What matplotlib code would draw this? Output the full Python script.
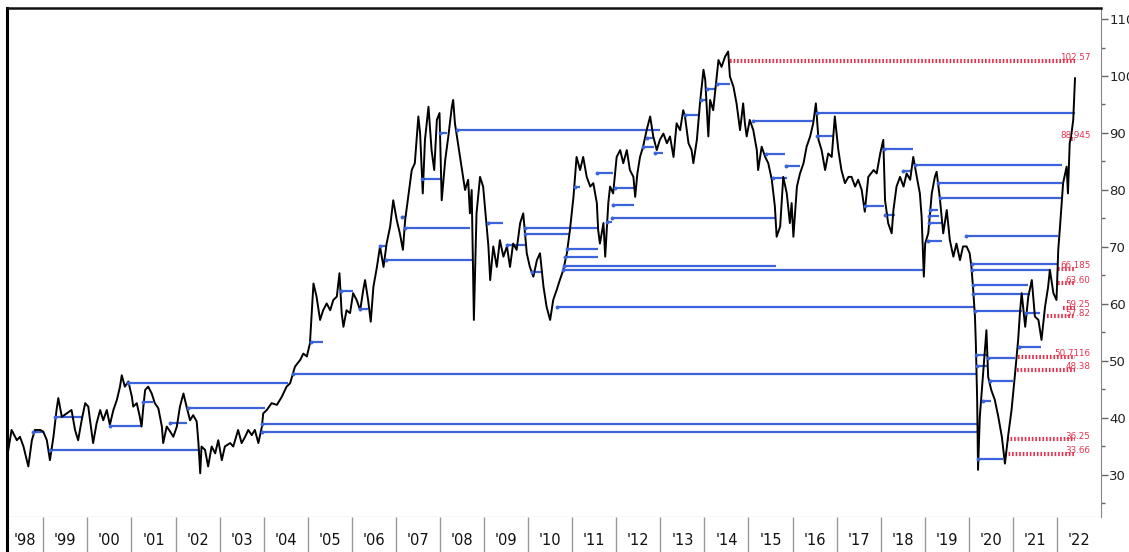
import matplotlib
matplotlib.use('Agg')
import matplotlib.pyplot as plt
from matplotlib.ticker import MultipleLocator

# price path (decimal year, price)
t = [1998.18, 1998.28, 1998.40, 1998.47, 1998.55, 1998.66, 1998.74, 1998.81, 1998.93,
     1999.00, 1999.08, 1999.15, 1999.23, 1999.30, 1999.34, 1999.42, 1999.53, 1999.64, 1999.72, 1999.79, 1999.87, 1999.95,
     2000.02, 2000.06, 2000.13, 2000.21, 2000.29, 2000.36, 2000.44, 2000.51, 2000.59, 2000.67, 2000.74, 2000.78, 2000.85, 2000.93,
     2001.01, 2001.04, 2001.12, 2001.19, 2001.23, 2001.27, 2001.31, 2001.38, 2001.46, 2001.53, 2001.61, 2001.69, 2001.72, 2001.80, 2001.88, 2001.95,
     2002.03, 2002.10, 2002.18, 2002.25, 2002.33, 2002.40, 2002.48, 2002.52, 2002.56, 2002.59, 2002.67, 2002.74, 2002.82, 2002.90, 2002.97,
     2003.05, 2003.12, 2003.24, 2003.31, 2003.42, 2003.50, 2003.58, 2003.65, 2003.73, 2003.80, 2003.88, 2003.96, 2003.99,
     2004.07, 2004.18, 2004.30, 2004.41, 2004.52, 2004.60, 2004.71, 2004.83, 2004.90, 2004.98,
     2005.05, 2005.09, 2005.13, 2005.20, 2005.28, 2005.35, 2005.43, 2005.51, 2005.58, 2005.66, 2005.72, 2005.77, 2005.81, 2005.88, 2005.96,
     2006.03, 2006.11, 2006.19, 2006.26, 2006.30, 2006.37, 2006.43, 2006.49, 2006.57, 2006.64, 2006.72, 2006.79, 2006.87, 2006.94,
     2007.02, 2007.09, 2007.16, 2007.21, 2007.28, 2007.36, 2007.43, 2007.51, 2007.55, 2007.61, 2007.66, 2007.74, 2007.81, 2007.87, 2007.93, 2007.99,
     2008.04, 2008.12, 2008.19, 2008.27, 2008.30, 2008.34, 2008.42, 2008.49, 2008.57, 2008.64, 2008.68, 2008.72, 2008.77, 2008.83, 2008.91, 2008.98,
     2009.02, 2009.10, 2009.14, 2009.21, 2009.29, 2009.36, 2009.44, 2009.52, 2009.59, 2009.66, 2009.74, 2009.82, 2009.89, 2009.97,
     2010.04, 2010.12, 2010.20, 2010.27, 2010.35, 2010.42, 2010.50, 2010.57, 2010.65, 2010.72, 2010.80, 2010.88, 2010.95,
     2011.03, 2011.10, 2011.18, 2011.25, 2011.33, 2011.41, 2011.48, 2011.56, 2011.59, 2011.63, 2011.71, 2011.75, 2011.82, 2011.86, 2011.93,
     2012.01, 2012.09, 2012.16, 2012.24, 2012.31, 2012.39, 2012.43, 2012.48, 2012.54, 2012.61, 2012.69, 2012.77, 2012.84, 2012.92, 2012.99,
     2013.07, 2013.15, 2013.22, 2013.30, 2013.37, 2013.45, 2013.52, 2013.56, 2013.64, 2013.71, 2013.75, 2013.83, 2013.90, 2013.98,
     2014.02, 2014.09, 2014.13, 2014.20, 2014.28, 2014.32, 2014.39, 2014.47, 2014.54, 2014.58, 2014.66, 2014.73, 2014.81, 2014.88, 2014.92, 2014.96,
     2015.03, 2015.11, 2015.19, 2015.22, 2015.30, 2015.38, 2015.45, 2015.53, 2015.60, 2015.64, 2015.72, 2015.79, 2015.87, 2015.94, 2015.98,
     2016.02, 2016.10, 2016.17, 2016.25, 2016.32, 2016.40, 2016.47, 2016.53, 2016.59, 2016.66, 2016.74, 2016.81, 2016.89, 2016.96,
     2017.04, 2017.11, 2017.19, 2017.27, 2017.34, 2017.42, 2017.49, 2017.57, 2017.64, 2017.72, 2017.84, 2017.91, 2017.99,
     2018.06, 2018.10, 2018.17, 2018.25, 2018.29, 2018.36, 2018.44, 2018.52, 2018.59, 2018.67, 2018.74, 2018.82, 2018.89, 2018.93, 2018.98,
     2019.01, 2019.08, 2019.16, 2019.23, 2019.27, 2019.34, 2019.42, 2019.50, 2019.57, 2019.65, 2019.72, 2019.80, 2019.87, 2019.95,
     2020.02, 2020.06, 2020.10, 2020.14, 2020.16, 2020.19, 2020.21, 2020.25, 2020.29, 2020.32, 2020.40, 2020.44, 2020.51, 2020.59, 2020.67, 2020.75, 2020.82, 2020.90, 2020.97,
     2021.05, 2021.12, 2021.16, 2021.20, 2021.28, 2021.35, 2021.43, 2021.50, 2021.58, 2021.65, 2021.73, 2021.80, 2021.84, 2021.92, 2021.99,
     2022.03, 2022.07, 2022.14, 2022.22, 2022.25, 2022.29, 2022.33, 2022.37, 2022.41]
price = [33.2, 37.9, 36.1, 36.7, 35.0, 31.5, 36.1, 37.9, 37.9,
         37.6, 36.1, 32.6, 36.7, 41.4, 43.5, 40.2, 40.8, 41.4, 37.9, 36.1, 39.6, 42.6,
         42.0, 39.6, 35.6, 39.1, 41.4, 39.6, 41.4, 38.8, 41.4, 43.2, 45.5, 47.5, 45.5, 46.4,
         43.7, 42.0, 42.6, 40.2, 38.5, 42.0, 44.9, 45.5, 44.3, 42.6, 41.7, 38.5, 35.6, 38.5, 37.6, 36.7,
         38.5, 42.0, 44.3, 42.0, 39.6, 40.5, 39.4, 35.6, 30.3, 35.0, 34.4, 31.5, 35.0, 33.8, 36.1,
         32.6, 35.0, 35.6, 35.0, 37.9, 35.6, 36.7, 37.9, 37.0, 37.9, 35.6, 38.5, 40.8,
         41.4, 42.6, 42.3, 43.7, 45.5, 46.1, 49.0, 50.2, 51.3, 50.8,
         53.1, 58.4, 63.6, 61.3, 57.2, 58.9, 60.1, 58.9, 60.7, 61.3, 65.4, 58.4, 56.0, 58.9, 58.4,
         61.9, 60.7, 58.9, 62.5, 64.2, 60.7, 56.9, 63.0, 66.5, 70.1, 66.5, 70.6, 73.6, 78.2,
         74.7, 72.4, 69.5, 74.7, 78.8, 83.5, 84.7, 92.9, 89.9, 79.4, 88.8, 94.6, 87.0, 83.5, 92.3, 93.5,
         78.2, 85.3, 89.4, 94.6, 95.8, 91.7, 87.6, 84.1, 80.0, 81.8, 75.9, 80.0, 57.2, 75.9, 82.3, 80.6,
         77.1, 70.1, 64.2, 70.1, 66.5, 71.2, 68.3, 70.1, 66.5, 70.6, 69.5, 74.2, 75.9, 68.9,
         66.5, 64.8, 67.7, 68.9, 63.0, 59.5, 57.2, 60.7, 62.5, 64.2, 66.0, 68.9, 73.0,
         78.8, 85.8, 83.5, 85.8, 82.3, 80.6, 81.2, 77.7, 73.0, 70.6, 74.2, 68.3, 77.7, 80.6, 79.4,
         85.8, 87.0, 84.7, 87.0, 83.5, 82.3, 78.8, 82.9, 85.8, 87.6, 90.5, 92.9, 89.4, 87.0, 88.8,
         89.9, 88.2, 89.4, 85.8, 91.7, 90.5, 94.0, 92.9, 88.2, 87.0, 84.7, 88.8, 95.2, 101.1,
         99.3, 89.4, 95.8, 94.0, 99.9, 102.8, 101.6, 103.4, 104.3, 99.9, 98.1, 95.2, 90.5, 95.2, 91.7, 89.4,
         92.3, 90.5, 87.0, 83.5, 87.6, 85.8, 84.7, 81.8, 77.1, 71.8, 73.6, 82.3, 79.4, 74.2, 77.7,
         71.8, 80.6, 82.9, 84.7, 87.6, 89.4, 91.7, 95.2, 88.8, 87.0, 83.5, 86.4, 85.8, 92.9,
         87.0, 83.5, 81.2, 82.3, 82.3, 80.6, 81.8, 80.0, 76.2, 82.3, 83.5, 82.9, 86.4,
         88.8, 78.2, 74.2, 72.4, 76.5, 80.6, 82.3, 80.6, 82.9, 81.8, 85.8, 82.3, 79.4, 75.3, 64.8,
         70.6, 72.4, 79.4, 82.3, 83.2, 78.8, 72.4, 76.5, 71.2, 68.3, 70.6, 67.7, 70.1, 70.1,
         68.9, 66.5, 62.5, 57.8, 53.1, 43.2, 30.9, 40.2, 44.3, 47.2, 55.4, 47.2, 44.9, 43.2, 40.2, 36.7, 32.0, 37.3, 41.4,
         47.8, 53.7, 58.4, 61.9, 56.0, 61.3, 64.2, 57.8, 57.2, 53.7, 59.5, 63.0, 66.0, 61.9, 60.7,
         69.5, 73.6, 81.2, 84.1, 79.4, 88.2, 89.9, 92.3, 99.6]

# blue horizontal levels: start, end, level
lvl_start = [1998.77, 1999.15, 1999.27, 2000.51, 2000.92, 2001.26, 2001.88, 2002.28,
             2003.97, 2003.97, 2004.66, 2005.08, 2005.76, 2006.19, 2006.64, 2006.77,
             2007.15, 2007.20, 2007.60, 2008.00, 2008.39, 2009.09, 2009.52, 2009.93,
             2009.93, 2010.09, 2010.66, 2010.80, 2010.82, 2010.84, 2010.88, 2011.07,
             2011.57, 2011.79, 2011.90, 2011.93, 2011.97, 2012.61, 2012.70, 2012.88,
             2013.56, 2013.92, 2014.05, 2014.28, 2015.10, 2015.40, 2015.56, 2015.86,
             2016.56, 2016.56, 2017.64, 2018.07, 2018.10, 2018.50, 2018.78, 2019.08,
             2019.10, 2019.10, 2019.12, 2019.30, 2019.35, 2019.94, 2020.08, 2020.08,
             2020.10, 2020.10, 2020.14, 2020.16, 2020.18, 2020.21, 2020.32, 2020.43,
             2020.48, 2021.13, 2021.30]
lvl_end = [1999.00, 2002.55, 1999.88, 2001.24, 2004.55, 2001.49, 2002.26, 2004.03,
           2020.19, 2020.19, 2020.16, 2005.35, 2006.03, 2006.37, 2006.80, 2008.75,
           2007.23, 2008.68, 2008.05, 2008.16, 2012.99, 2009.43, 2009.93, 2011.59,
           2010.95, 2010.34, 2020.14, 2018.96, 2015.63, 2011.59, 2011.59, 2011.18,
           2011.93, 2011.91, 2015.63, 2012.40, 2012.43, 2012.86, 2012.84, 2013.06,
           2013.85, 2014.06, 2014.24, 2014.58, 2016.46, 2015.83, 2015.88, 2016.17,
           2022.41, 2016.94, 2018.07, 2018.73, 2018.33, 2018.71, 2022.11, 2019.39,
           2019.32, 2019.39, 2019.30, 2022.11, 2022.11, 2022.03, 2022.01, 2021.84,
           2021.35, 2021.39, 2021.20, 2020.41, 2020.41, 2020.78, 2020.50, 2021.05,
           2021.00, 2021.63, 2021.62]
lvl_value = [37.6, 34.4, 40.2, 38.6, 46.1, 42.8, 39.2, 41.8,
             39.0, 37.6, 47.7, 53.3, 62.3, 59.1, 70.2, 67.7,
             75.3, 73.3, 81.9, 90.0, 90.6, 74.2, 70.4, 73.4,
             72.3, 65.6, 59.5, 65.9, 66.7, 68.2, 69.6, 80.5,
             83.0, 74.4, 75.1, 77.4, 80.4, 87.5, 89.1, 86.5,
             93.2, 95.8, 97.7, 98.6, 92.1, 86.3, 82.1, 84.2,
             93.5, 89.5, 77.2, 87.2, 75.6, 83.3, 84.4, 71.1,
             75.4, 74.2, 76.5, 81.2, 78.6, 71.9, 67.0, 66.0,
             63.3, 61.8, 58.8, 51.1, 49.1, 32.8, 43.0, 50.5,
             46.5, 52.5, 58.4]

# red dotted target levels
tgt_start = [2014.58, 2022.33, 2022.03, 2022.03, 2022.14, 2021.77, 2021.12, 2021.10, 2020.86, 2020.82]
tgt_value = [102.57, 88.945, 66.185, 63.60, 59.25, 57.82, 50.7116, 48.38, 36.25, 33.66]
tgt_label = ['102.57', '88.945', '66.185', '63.60', '59.25', '57.82', '50.7116', '48.38', '36.25', '33.66']
tgt_end = 2022.41

years = list(range(1998, 2023))

BLUE = '#3b63dc'
RED = '#e3344f'

fig = plt.figure(figsize=(11.29, 5.52), dpi=100)
W, H = 1129, 552
ax = fig.add_axes([7 / W, 1 - 517 / H, 1094 / W, 509 / H])
x0, x1 = 1998.176, 2023.0
ax.set_xlim(x0, x1)
ax.set_ylim(22.63, 111.93)

ax.hlines(lvl_value, lvl_start, lvl_end, color=BLUE, lw=1.6, zorder=2)
for s, v in zip(tgt_start, tgt_value):
    ax.plot([s, tgt_end], [v, v], color=RED, lw=3.0, ls=(0, (0.4, 0.45)),
            dash_capstyle='butt', zorder=2)
ax.plot(t, price, color='black', lw=1.4, zorder=3)
ax.plot(lvl_start, lvl_value, 'o', color=BLUE, ms=2.8, mew=0, zorder=4)
for v, lab in zip(tgt_value, tgt_label):
    ax.text(2022.76, v - 0.2, lab, color=RED, fontsize=6.3, ha='right', va='bottom', zorder=5)

ax.yaxis.tick_right()
ax.set_yticks(range(30, 111, 10))
ax.yaxis.set_minor_locator(MultipleLocator(5))
ax.tick_params(axis='y', which='major', length=5, width=1, color='#666', labelcolor='#222',
               labelsize=9.5, pad=1)
ax.tick_params(axis='y', which='minor', length=3, width=1, color='#666')
ax.set_xticks([])
ax.spines['left'].set_linewidth(2.2)
ax.spines['left'].set_color('black')
ax.spines['top'].set_linewidth(1.8)
ax.spines['top'].set_color('#111')
ax.spines['right'].set_color('#888')
ax.spines['bottom'].set_color('#888')

# year strip under the chart
ax2 = fig.add_axes([7 / W, 0, 1094 / W, 35 / H])
ax2.set_xlim(x0, x1)
ax2.set_ylim(0, 1)
ax2.vlines(years[1:], 0, 1, color='#999', lw=1)
for y in years:
    c = (max(y, x0) + y + 1) / 2
    ax2.text(c, 0.33, "'%02d" % (y % 100), ha='center', va='center', fontsize=10.5, color='#111')
ax2.set_xticks([])
ax2.set_yticks([])
for side in ['top', 'right', 'bottom']:
    ax2.spines[side].set_visible(False)
ax2.spines['left'].set_linewidth(2.2)
ax2.spines['left'].set_color('black')

fig.savefig('out.png', dpi=100)
